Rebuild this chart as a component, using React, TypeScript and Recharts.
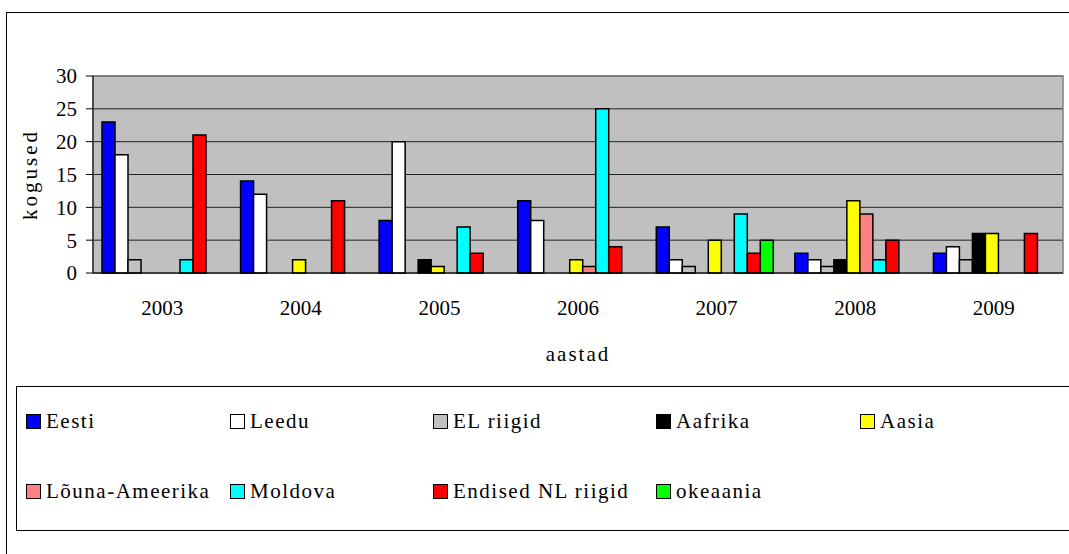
import { Bar, BarChart, CartesianGrid, ReferenceArea, XAxis, YAxis } from "recharts";

const YEARS = ["2003", "2004", "2005", "2006", "2007", "2008", "2009"];

const EESTI = [23, 14, 8, 11, 7, 3, 3];
const LEEDU = [18, 12, 20, 8, 2, 2, 4];
const EL_RIIGID = [2, 0, 0, 0, 1, 1, 2];
const AAFRIKA = [0, 0, 2, 0, 0, 2, 6];
const AASIA = [0, 2, 1, 2, 5, 11, 6];
const LOUNA_AMEERIKA = [0, 0, 0, 1, 0, 9, 0];
const MOLDOVA = [2, 0, 7, 25, 9, 2, 0];
const ENDISED_NL = [21, 11, 3, 4, 3, 5, 6];
const OKEAANIA = [0, 0, 0, 0, 5, 0, 0];

const Y_TICKS = [0, 5, 10, 15, 20, 25, 30];

const SERIES = [
  { key: "eesti", name: "Eesti", color: "#0000ff", values: EESTI },
  { key: "leedu", name: "Leedu", color: "#ffffff", values: LEEDU },
  { key: "el", name: "EL riigid", color: "#c0c0c0", values: EL_RIIGID },
  { key: "aafrika", name: "Aafrika", color: "#000000", values: AAFRIKA },
  { key: "aasia", name: "Aasia", color: "#ffff00", values: AASIA },
  { key: "louna", name: "Lõuna-Ameerika", color: "#ff8080", values: LOUNA_AMEERIKA },
  { key: "moldova", name: "Moldova", color: "#00ffff", values: MOLDOVA },
  { key: "endised", name: "Endised NL riigid", color: "#ff0000", values: ENDISED_NL },
  { key: "okeaania", name: "okeaania", color: "#00ff00", values: OKEAANIA },
];

const data = YEARS.map((year, i) => {
  const row: Record<string, string | number> = { year };
  SERIES.forEach((s) => {
    row[s.key] = s.values[i];
  });
  return row;
});

const FONT = '"Liberation Serif", "Times New Roman", Tinos, "DejaVu Serif", serif';
const TEXT = { fontSize: 21, fill: "#000", fontFamily: FONT };
const TITLE = { ...TEXT, letterSpacing: 2 };

// legend column lefts (Excel-style legend, 5 per row)
const LEGEND_COLS = [26, 230, 433, 656, 860];

export default function App() {
  return (
    <div
      style={{
        position: "absolute",
        left: 0,
        top: 0,
        width: 1069,
        height: 554,
        background: "#fff",
        overflow: "hidden",
        fontFamily: FONT,
      }}
    >
      <div
        style={{
          position: "absolute",
          left: 6,
          top: 12,
          width: 1100,
          height: 600,
          borderLeft: "1.5px solid #000",
          borderTop: "1.5px solid #000",
        }}
      />
      <BarChart
        width={1069}
        height={554}
        data={data}
        margin={{ top: 76, right: 6, left: 18, bottom: 241 }}
        barCategoryGap={9}
        barGap={0}
        style={{ position: "absolute", left: 0, top: 0, fontFamily: FONT }}
      >
        <CartesianGrid horizontal vertical={false} fill="#c0c0c0" stroke="#222" fillOpacity={1} />
        <ReferenceArea y1={0} y2={30} fill="none" stroke="#808080" strokeWidth={1.5} />
        <XAxis
          dataKey="year"
          height={40}
          tick={TEXT}
          tickLine={false}
          axisLine={{ stroke: "#000" }}
          tickMargin={21}
          label={{ value: "aastad", position: "bottom", offset: 33, style: TITLE }}
        />
        <YAxis
          width={75}
          domain={[0, 30]}
          ticks={Y_TICKS}
          interval={0}
          tick={TEXT}
          tickSize={7}
          tickMargin={9}
          tickLine={{ stroke: "#000" }}
          axisLine={{ stroke: "#000" }}
          label={({ viewBox }: any) => (
            <text
              x={viewBox.x + 12}
              y={viewBox.y + viewBox.height / 2}
              transform={`rotate(-90 ${viewBox.x + 12} ${viewBox.y + viewBox.height / 2})`}
              textAnchor="middle"
              dominantBaseline="central"
              style={{ ...TITLE, letterSpacing: 3 }}
            >
              kogused
            </text>
          )}
        />
        {SERIES.map((s) => (
          <Bar
            key={s.key}
            dataKey={s.key}
            name={s.name}
            fill={s.color}
            stroke="#000"
            strokeWidth={1.5}
            isAnimationActive={false}
          />
        ))}
      </BarChart>
      <div
        style={{
          position: "absolute",
          left: 16,
          top: 386,
          width: 1100,
          height: 143,
          border: "1.5px solid #000",
        }}
      />
      {SERIES.map((s, i) => {
        const row = Math.floor(i / 5);
        const col = i % 5;
        return (
          <div
            key={s.key}
            style={{
              position: "absolute",
              left: LEGEND_COLS[col],
              top: row === 0 ? 408 : 478,
              height: 26,
              display: "flex",
              alignItems: "center",
              fontSize: 21,
              fontFamily: FONT,
              letterSpacing: 1.5,
              color: "#000",
              whiteSpace: "nowrap",
            }}
          >
            <span
              style={{
                display: "inline-block",
                width: 13,
                height: 13,
                background: s.color,
                border: "1.5px solid #000",
                marginRight: 5,
              }}
            />
            {s.name}
          </div>
        );
      })}
    </div>
  );
}
